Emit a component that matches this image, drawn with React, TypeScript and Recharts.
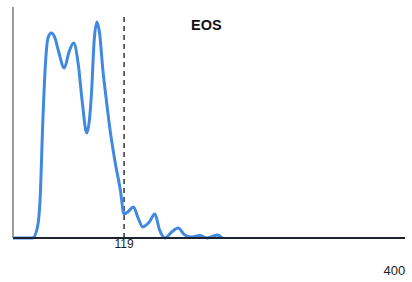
import { LineChart, Line, XAxis, YAxis, ReferenceLine } from 'recharts'

// position along the x axis (0..420) and signal height (0..100)
const xValues = [
  0, 13, 21, 26, 29, 32, 35, 37.5, 41, 45, 49, 55, 60, 65, 70, 74, 79, 84, 87, 90,
  93, 96, 100, 104, 109, 115, 119, 123, 129, 134, 139, 146, 152, 157, 163, 169, 177,
  184, 192, 200, 208, 213, 219, 224,
]
const yValues = [
  0, 0, 0, 4.3, 16.5, 51, 77, 86.6, 88.7, 86.6, 80.5, 73.6, 80.5, 84.4, 74.9, 59.7,
  45.5, 61.9, 85.7, 93.5, 87.9, 74, 59.7, 46.8, 33.8, 20.8, 10.4, 11.3, 13.4, 8.7, 4.8,
  6.9, 10.4, 3.5, 0, 2.2, 4.3, 1.3, 0.4, 1.1, 0, 0.6, 1.3, 0,
]
const cutoff = 119
const axisTicks = [119, 400]
const title = 'EOS'

const data = xValues.map((x, i) => ({ x, y: yValues[i] }))

const font = '"Liberation Sans", Arial, sans-serif'

function Tick(props: any) {
  const { x, y, payload } = props
  if (payload.value === 400) {
    return (
      <text x={x + 8} y={y + 37} textAnchor="middle" fontSize={13} fill="#222" fontFamily={font}>
        400
      </text>
    )
  }
  return (
    <text x={x} y={y + 10} textAnchor="middle" fontSize={12} fill="#222" fontFamily={font}>
      {payload.value}
    </text>
  )
}

export default function App() {
  return (
    <div style={{ position: 'absolute', left: 0, top: 0, width: 412, height: 282, background: '#fff' }}>
      <LineChart width={412} height={282} data={data} margin={{ top: 7, right: 7, left: 0, bottom: 0 }}>
        <XAxis
          dataKey="x"
          type="number"
          domain={[0, 420]}
          ticks={axisTicks}
          interval={0}
          tick={<Tick />}
          tickLine={false}
          tickSize={0}
          tickMargin={0}
          height={44}
          axisLine={{ stroke: '#1b2430', strokeWidth: 2 }}
        />
        <YAxis
          domain={[0, 100]}
          width={13}
          tick={false}
          tickLine={false}
          axisLine={{ stroke: '#7a7a7a', strokeWidth: 1.5 }}
        />
        <ReferenceLine
          segment={[{ x: cutoff, y: 0 }, { x: cutoff, y: 97.4 }]}
          stroke="#333"
          strokeWidth={1.5}
          strokeDasharray="5 4"
        />
        <Line
          type="monotone"
          dataKey="y"
          stroke="#4189e0"
          strokeWidth={3}
          dot={false}
          isAnimationActive={false}
        />
      </LineChart>
      <div
        style={{
          position: 'absolute',
          left: 191,
          top: 16,
          fontFamily: font,
          fontWeight: 'bold',
          fontSize: 14.5,
          lineHeight: '18px',
          color: '#111',
        }}
      >
        {title}
      </div>
    </div>
  )
}
